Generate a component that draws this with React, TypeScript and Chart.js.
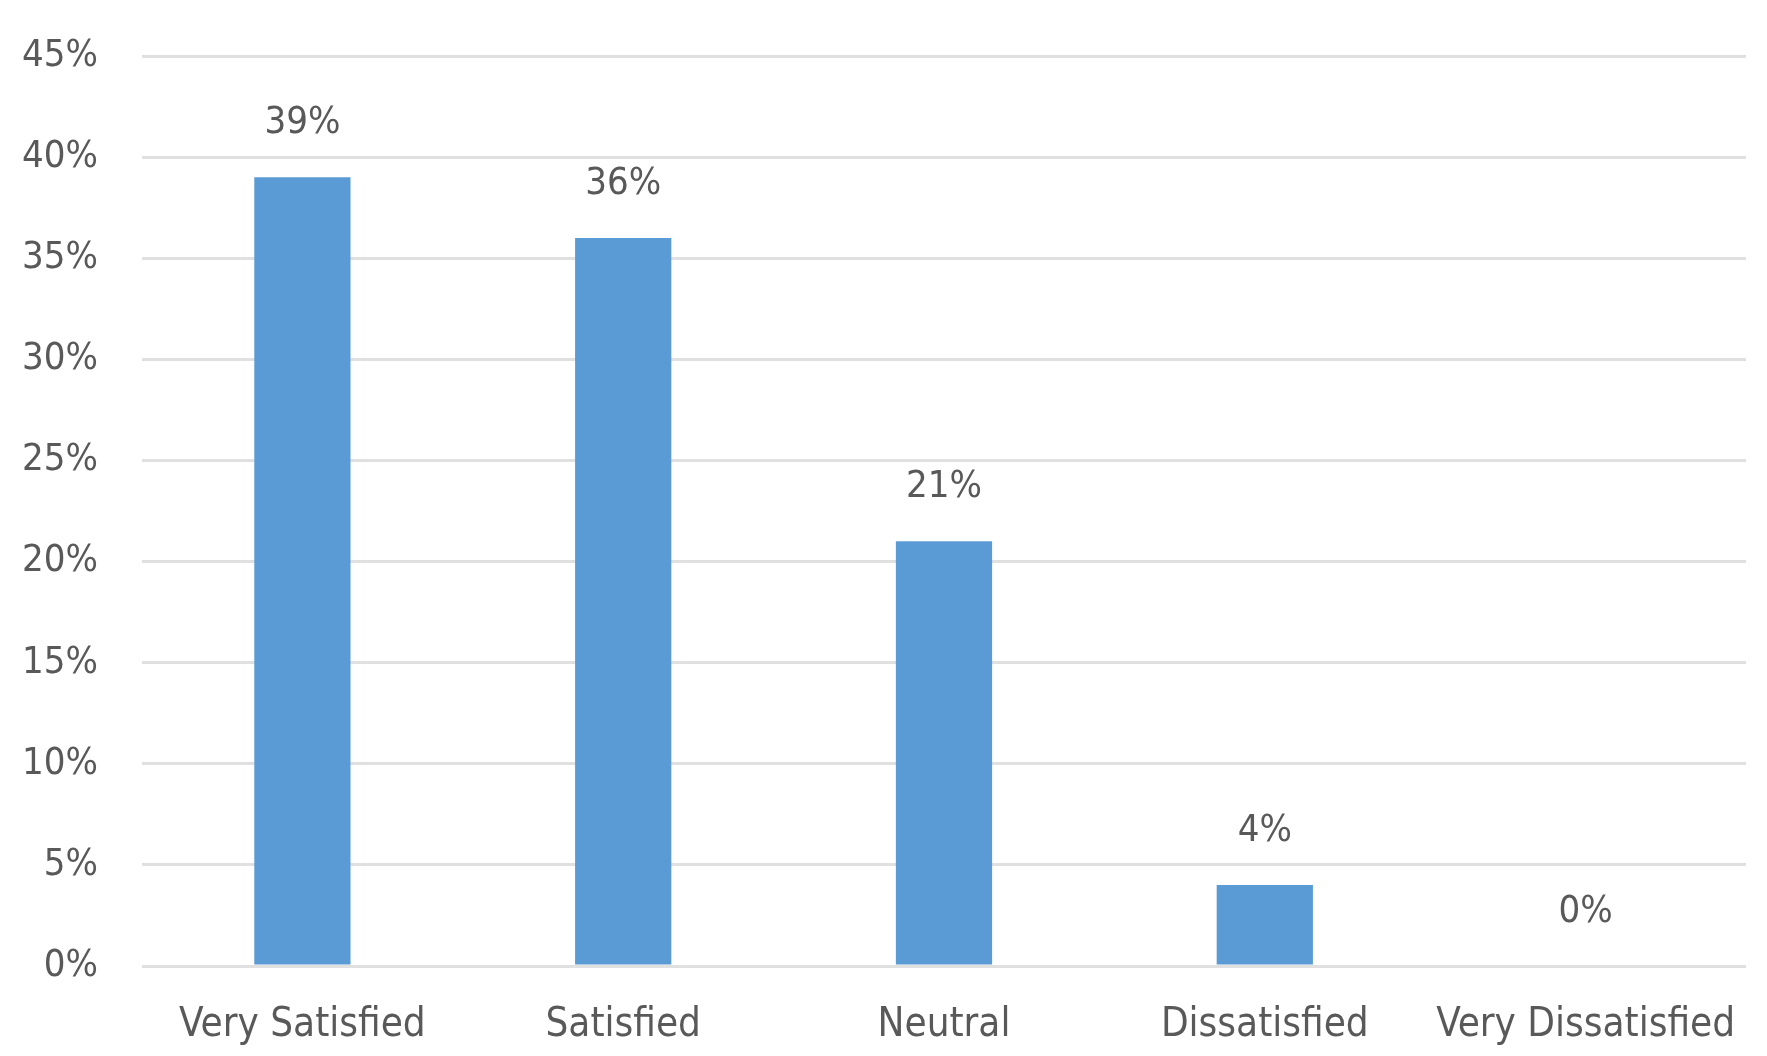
import React, { useEffect, useRef } from "react";
import { Chart, registerables } from "chart.js";

Chart.register(...registerables);

const categories = ["Very Satisfied", "Satisfied", "Neutral", "Dissatisfied", "Very Dissatisfied"];
const values = [39, 36, 21, 4, 0];
const yTicks = [0, 5, 10, 15, 20, 25, 30, 35, 40, 45];

const FONT = "'DejaVu Sans Condensed', 'DejaVu Sans', sans-serif";
const TEXT = "#595959";

const labelPlugin = {
  id: "barLabels",
  afterDatasetsDraw(chart: any) {
    const ctx = chart.ctx;
    const meta = chart.getDatasetMeta(0);
    ctx.save();
    ctx.font = `38px ${FONT}`;
    ctx.fillStyle = TEXT;
    ctx.textAlign = "center";
    ctx.textBaseline = "middle";
    meta.data.forEach((el: any, i: number) => {
      ctx.fillText(`${values[i]}%`, el.x, el.y - 54);
    });
    ctx.restore();
  },
};

export default function App() {
  const ref = useRef<HTMLCanvasElement | null>(null);
  useEffect(() => {
    if (!ref.current) return;
    const chart = new Chart(ref.current, {
      type: "bar",
      data: {
        labels: categories,
        datasets: [
          {
            data: values,
            backgroundColor: "#5B9BD5",
            categoryPercentage: 1,
            barPercentage: 0.3,
          },
        ],
      },
      options: {
        animation: false,
        responsive: false,
        maintainAspectRatio: false,
        layout: { padding: { left: 0, right: 21, top: 56, bottom: 0 } },
        plugins: { legend: { display: false }, tooltip: { enabled: false } },
        scales: {
          x: {
            grid: { display: false, drawTicks: false },
            border: { display: false },
            ticks: {
              color: TEXT,
              font: { family: FONT, size: 40 },
              padding: 36,
              maxRotation: 0,
              autoSkip: false,
            },
            afterFit(scale: any) {
              scale.height = 90;
              scale.paddingLeft = 0;
              scale.paddingRight = 0;
            },
          },
          y: {
            min: 0,
            max: 45,
            afterBuildTicks(scale: any) {
              scale.ticks = yTicks.map((v) => ({ value: v }));
            },
            grid: { color: "#E0E0E0", lineWidth: 3, drawTicks: false },
            border: { display: false },
            ticks: {
              color: TEXT,
              font: { family: FONT, size: 38 },
              padding: 44,
              callback: (v: any) => `${v}%`,
            },
            afterFit(scale: any) {
              scale.width = 142;
              scale.paddingTop = 0;
              scale.paddingBottom = 0;
            },
          },
        },
      },
      plugins: [labelPlugin],
    });
    return () => chart.destroy();
  }, []);
  return (
    <div style={{ position: "fixed", left: 0, top: 0, width: 1767, height: 1056, background: "#fff" }}>
      <canvas ref={ref} width={1767} height={1056} style={{ display: "block" }} />
    </div>
  );
}
